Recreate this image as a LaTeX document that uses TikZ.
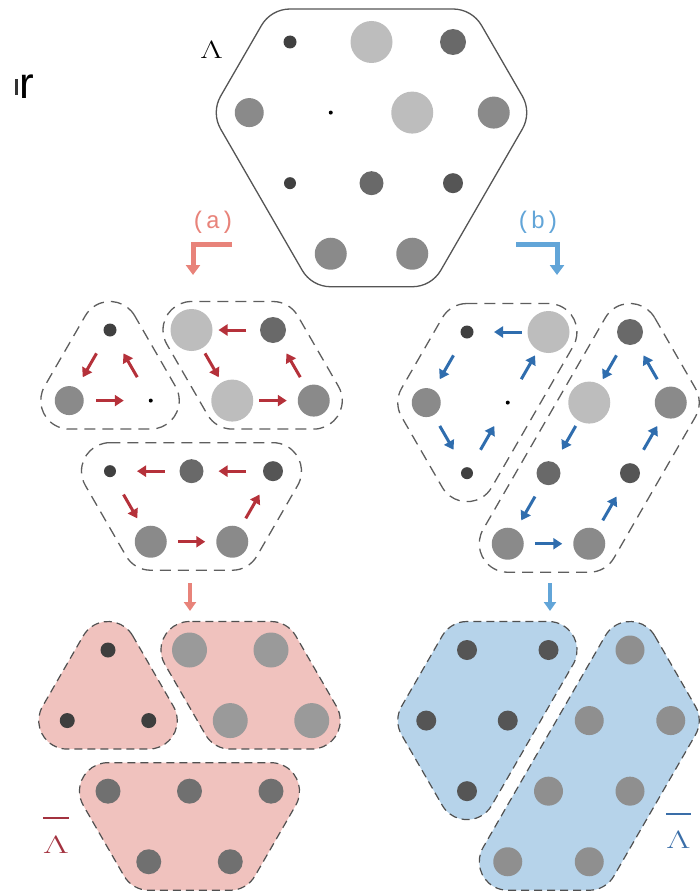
\documentclass[tikz,border=0pt]{standalone}
\usepackage{fontspec}
\usepackage{graphicx}
\usetikzlibrary{arrows.meta,calc}
\newfontfamily\monofont{Liberation Mono}
\newfontfamily\sansfont{Liberation Sans}
\definecolor{redarr}{HTML}{B5313A}
\definecolor{bluearr}{HTML}{2F6DAE}
\definecolor{pinkflow}{HTML}{E8837A}
\definecolor{blueflow}{HTML}{62A5D8}
\definecolor{pinkfill}{HTML}{F0C2BE}
\definecolor{bluefill}{HTML}{B6D3EA}
\definecolor{labred}{HTML}{A3323F}
\definecolor{labblue}{HTML}{3A6EA8}
\definecolor{hexgray}{HTML}{555555}
\definecolor{grpgray}{HTML}{5E5E5E}
\definecolor{grpgrayb}{HTML}{505050}
\definecolor{dA}{HTML}{404040}
\definecolor{dL}{HTML}{BDBDBD}
\definecolor{dM}{HTML}{696969}
\definecolor{dN}{HTML}{8A8A8A}
\definecolor{dB}{HTML}{555555}
\definecolor{bA}{HTML}{3E3E3E}
\definecolor{bP}{HTML}{9A9A9A}
\definecolor{bT}{HTML}{707070}
\definecolor{bL}{HTML}{555555}
\definecolor{bR}{HTML}{8F8F8F}
\newcommand{\mklattice}[3]{%
  \foreach \c in {0,1,2}{\coordinate (#1-1-\c) at ({#2+\c*81.5},{-#3});}
  \foreach \c in {0,1,2,3}{\coordinate (#1-2-\c) at ({#2-40.75+\c*81.5},{-(#3+70.58)});}
  \foreach \c in {0,1,2}{\coordinate (#1-3-\c) at ({#2+\c*81.5},{-(#3+141.16)});}
  \foreach \c in {0,1}{\coordinate (#1-4-\c) at ({#2+40.75+\c*81.5},{-(#3+211.74)});}
}
\newcommand{\stddots}[1]{%
  \foreach \p/\s/\c in {1-0/13pt/dA,1-1/42pt/dL,1-2/26pt/dM,2-0/29pt/dN,2-1/4pt/black,2-2/42pt/dL,2-3/32pt/dN,3-0/12pt/dA,3-1/24pt/dM,3-2/20pt/dB,4-0/32pt/dN,4-1/32pt/dN}
  {\node[latdot, minimum size=\s, fill=\c] (#1n\p) at (#1-\p) {};}
}
\newcommand{\crn}[4]{([shift={(#2:#4)}]#1) arc[start angle=#2, end angle=#3, radius=#4]}
\tikzset{
  latdot/.style={circle, inner sep=0pt, draw=none},
  hexline/.style={draw=hexgray, line width=1.3pt},
  grpline/.style={draw=grpgray, line width=1.3pt, dash pattern=on 11pt off 7pt},
  grpfill/.style={draw=grpgrayb, line width=1.2pt, dash pattern=on 8pt off 5pt},
  redar/.style={draw=redarr, line width=3pt, -{Triangle[length=9pt,width=11pt]}, shorten <=27pt, shorten >=27pt},
  bluear/.style={draw=bluearr, line width=3pt, -{Triangle[length=9pt,width=11pt]}, shorten <=27pt, shorten >=27pt},
  flowa/.style={draw=pinkflow, line width=5pt, -{Triangle[length=10pt,width=14pt]}},
  flowb/.style={draw=blueflow, line width=5pt, -{Triangle[length=10pt,width=14pt]}},
  downa/.style={draw=pinkflow, line width=4pt, -{Triangle[length=9pt,width=12pt]}},
  downb/.style={draw=blueflow, line width=4pt, -{Triangle[length=9pt,width=12pt]}},
  lbl/.style={inner sep=0pt, font=\monofont\fontsize{24}{24}\selectfont},
  lamlbl/.style={inner sep=0pt, font=\fontsize{25}{25}\selectfont},
}
\begin{document}
\begin{tikzpicture}[x=1pt,y=1pt]
\useasboundingbox (0,0) rectangle (700,-891);
% lattices
\mklattice{t}{290}{42}
\mklattice{ma}{110}{330}
\mklattice{mb}{467}{332}
\mklattice{ba}{108}{650}
\mklattice{bb}{467}{650}

% partial text at left
\node[anchor=base west, inner sep=0pt, font=\sansfont\fontsize{44}{44}\selectfont] (rtxt) at (19.5,-98) {r};
\coordinate (sl0) at (16.5,-79);
\coordinate (sl1) at (16.5,-95);
\draw[black!80, line width=2.6pt] (sl0) -- (sl1);

% top hexagon
\draw[hexline] \crn{t-1-0}{90}{150}{33} -- \crn{t-2-0}{150}{210}{33} -- \crn{t-4-0}{210}{270}{33}
  -- \crn{t-4-1}{270}{330}{33} -- \crn{t-2-3}{330}{390}{33} -- \crn{t-1-2}{30}{90}{33} -- cycle;
\stddots{t}
\node[lamlbl, anchor=base] (lamtop) at (211.5,-58.5) {\scalebox{1.4}[1]{Λ}};

% labels (a), (b) and flow arrows
\node[lbl, text=pinkflow] (la) at (213,-222) {(a)};
\coordinate (fa0) at (232,-244);
\coordinate (fa1) at (193,-244);
\coordinate (fa2) at (193,-275);
\draw[flowa] (fa0) -- (fa1) -- (fa2);
\node[lbl, text=blueflow] (lb) at (538,-222) {(b)};
\coordinate (fb0) at (516,-244);
\coordinate (fb1) at (557,-244);
\coordinate (fb2) at (557,-275);
\draw[flowb] (fb0) -- (fb1) -- (fb2);

% middle (a)
\draw[grpline] \crn{ma-1-0}{30}{150}{28.5} -- \crn{ma-2-0}{150}{270}{28.5} -- \crn{ma-2-1}{270}{390}{28.5} -- cycle;
\draw[grpline] \crn{ma-1-1}{90}{210}{28.5} -- \crn{ma-2-2}{210}{270}{28.5} -- \crn{ma-2-3}{270}{390}{28.5} -- \crn{ma-1-2}{30}{90}{28.5} -- cycle;
\draw[grpline] \crn{ma-3-0}{90}{210}{28.5} -- \crn{ma-4-0}{210}{270}{28.5} -- \crn{ma-4-1}{270}{330}{28.5} -- \crn{ma-3-2}{330}{450}{28.5} -- cycle;
\stddots{ma}
\foreach \s/\e in {1-0/2-0,2-0/2-1,2-1/1-0,1-2/1-1,1-1/2-2,2-2/2-3,2-3/1-2,3-2/3-1,3-1/3-0,3-0/4-0,4-0/4-1,4-1/3-2}
  {\draw[redar] (man\s.center) -- (man\e.center);}

% middle (b)
\draw[grpline] \crn{mb-1-0}{90}{150}{28.5} -- \crn{mb-2-0}{150}{210}{28.5} -- \crn{mb-3-0}{210}{330}{28.5} -- \crn{mb-1-1}{330}{450}{28.5} -- cycle;
\draw[grpline] \crn{mb-1-2}{30}{150}{28.5} -- \crn{mb-4-0}{150}{270}{28.5} -- \crn{mb-4-1}{270}{330}{28.5} -- \crn{mb-2-3}{330}{390}{28.5} -- cycle;
\stddots{mb}
\foreach \s/\e in {1-1/1-0,1-0/2-0,2-0/3-0,3-0/2-1,2-1/1-1,1-2/2-2,2-2/3-1,3-1/4-0,4-0/4-1,4-1/3-2,3-2/2-3,2-3/1-2}
  {\draw[bluear] (mbn\s.center) -- (mbn\e.center);}

% down arrows
\coordinate (da0) at (190,-583);
\coordinate (da1) at (190,-611);
\draw[downa] (da0) -- (da1);
\coordinate (db0) at (550,-583);
\coordinate (db1) at (550,-611);
\draw[downb] (db0) -- (db1);

% bottom (a)
\path[fill=pinkfill, grpfill] \crn{ba-1-0}{30}{150}{28.5} -- \crn{ba-2-0}{150}{270}{28.5} -- \crn{ba-2-1}{270}{390}{28.5} -- cycle;
\path[fill=pinkfill, grpfill] \crn{ba-1-1}{90}{210}{28.5} -- \crn{ba-2-2}{210}{270}{28.5} -- \crn{ba-2-3}{270}{390}{28.5} -- \crn{ba-1-2}{30}{90}{28.5} -- cycle;
\path[fill=pinkfill, grpfill] \crn{ba-3-0}{90}{210}{28.5} -- \crn{ba-4-0}{210}{270}{28.5} -- \crn{ba-4-1}{270}{330}{28.5} -- \crn{ba-3-2}{330}{450}{28.5} -- cycle;
\foreach \p in {1-0,2-0,2-1}{\node[latdot, minimum size=15pt, fill=bA] (ban\p) at (ba-\p) {};}
\foreach \p in {1-1,1-2,2-2,2-3}{\node[latdot, minimum size=35pt, fill=bP] (ban\p) at (ba-\p) {};}
\foreach \p in {3-0,3-1,3-2,4-0,4-1}{\node[latdot, minimum size=25pt, fill=bT] (ban\p) at (ba-\p) {};}
\node[lamlbl, anchor=base, text=labred] (lama) at (56,-853) {\scalebox{1.6}[1]{Λ}};
\draw[labred, line width=1.8pt] ([yshift=17pt]lama.north west) -- ([yshift=17pt]lama.north east);

% bottom (b)
\path[fill=bluefill, grpfill] \crn{bb-1-0}{90}{150}{28.5} -- \crn{bb-2-0}{150}{210}{28.5} -- \crn{bb-3-0}{210}{330}{28.5} -- \crn{bb-1-1}{330}{450}{28.5} -- cycle;
\path[fill=bluefill, grpfill] \crn{bb-1-2}{30}{150}{28.5} -- \crn{bb-4-0}{150}{270}{28.5} -- \crn{bb-4-1}{270}{330}{28.5} -- \crn{bb-2-3}{330}{390}{28.5} -- cycle;
\foreach \p in {1-0,1-1,2-0,2-1,3-0}{\node[latdot, minimum size=20pt, fill=bL] (bbn\p) at (bb-\p) {};}
\foreach \p in {1-2,2-2,2-3,3-1,3-2,4-0,4-1}{\node[latdot, minimum size=29pt, fill=bR] (bbn\p) at (bb-\p) {};}
\node[lamlbl, anchor=base, text=labblue] (lamb) at (678.5,-848) {\scalebox{1.5}[1]{Λ}};
\draw[labblue, line width=1.8pt] ([yshift=16pt]lamb.north west) -- ([yshift=16pt]lamb.north east);
\end{tikzpicture}
\end{document}
